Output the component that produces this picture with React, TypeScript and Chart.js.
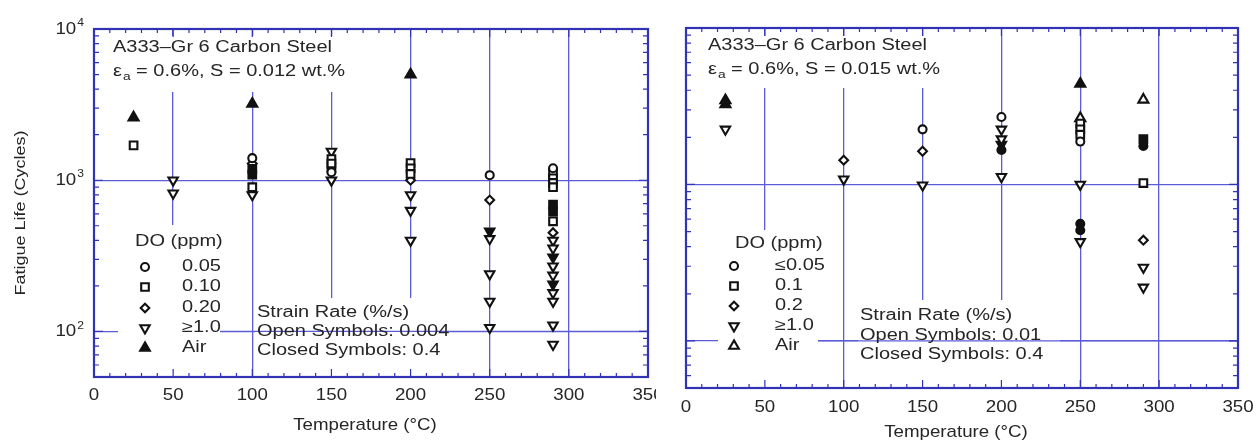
import React, { useEffect, useRef } from "react";
import { Chart, registerables } from "chart.js";
Chart.register(...registerables);

type P = [number, number];

// ---------- axes ----------
const X_MIN = 0;
const X_MAX = 350;
const X_MAJOR = [0, 50, 100, 150, 200, 250, 300, 350];
const X_MINOR_STEP = 10;
const Y_MIN = 50;
const Y_MAX = 10000;
const Y_DECADES = [100, 1000, 10000];
const Y_EXPONENTS = ["2", "3", "4"];

// ---------- panel A : S = 0.012 wt.% ----------
const A_CIRCLE_OPEN: P[] = [[100, 1400], [150, 1130], [250, 1080], [290, 1200]];
const A_SQUARE_OPEN: P[] = [[25, 1700], [100, 900], [150, 1380], [150, 1290], [200, 1300], [200, 1200], [200, 1100], [290, 1100], [290, 1030], [290, 960], [290, 900], [290, 535]];
const A_SQUARE_FILLED: P[] = [[100, 1190], [100, 1090], [150, 1210], [290, 690], [290, 620]];
const A_DIAMOND_OPEN: P[] = [[100, 1290], [200, 1000], [250, 740], [290, 450]];
const A_DOWN_OPEN: P[] = [[50, 1000], [50, 820], [100, 800], [150, 1550], [150, 1000], [200, 800], [200, 630], [200, 400], [250, 410], [250, 240], [250, 158], [250, 106], [290, 400], [290, 355], [290, 270], [290, 235], [290, 180], [290, 158], [290, 110], [290, 82]];
const A_DOWN_FILLED: P[] = [[250, 460], [290, 310], [290, 205]];
const A_AIR_FILLED: P[] = [[25, 2600], [100, 3200], [200, 5000]];

// ---------- panel B : S = 0.015 wt.% ----------
const B_CIRCLE_OPEN: P[] = [[150, 2250], [200, 2700], [250, 1880]];
const B_CIRCLE_FILLED: P[] = [[200, 1660], [250, 560], [250, 510], [290, 1760]];
const B_SQUARE_OPEN: P[] = [[250, 2450], [250, 2250], [250, 2080], [290, 1020]];
const B_SQUARE_FILLED: P[] = [[290, 1950]];
const B_DIAMOND_OPEN: P[] = [[100, 1430], [150, 1630], [290, 440]];
const B_DOWN_OPEN: P[] = [[25, 2250], [100, 1080], [150, 990], [200, 2250], [200, 1950], [200, 1120], [250, 1000], [250, 430], [290, 295], [290, 220]];
const B_DOWN_FILLED: P[] = [[200, 1800]];
const B_AIR_FILLED: P[] = [[25, 3450], [25, 3250], [250, 4400]];
const B_AIR_OPEN: P[] = [[250, 2650], [290, 3480]];

// ---------- texts ----------
const TITLE_1 = "A333–Gr 6 Carbon Steel";
const A_TITLE_2 = " = 0.6%, S = 0.012 wt.%";
const B_TITLE_2 = " = 0.6%, S = 0.015 wt.%";
const DO_HEADER = "DO (ppm)";
const A_DO_LABELS = ["0.05", "0.10", "0.20", "≥1.0", "Air"];
const B_DO_LABELS = ["≤0.05", "0.1", "0.2", "≥1.0", "Air"];
const DO_SYMBOLS = ["circle", "square", "diamond", "down", "up"];
const A_RATE_LABELS = ["Strain Rate (%/s)", "Open Symbols: 0.004", "Closed Symbols: 0.4"];
const B_RATE_LABELS = ["Strain Rate (%/s)", "Open Symbols: 0.01", "Closed Symbols: 0.4"];
const X_TITLE = "Temperature (°C)";
const Y_TITLE = "Fatigue Life (Cycles)";

const H = 446;
const FONT = '"Liberation Sans", Arial, sans-serif';
const TXT = "#262626";
const GRID = "#5c5cd8";
const FRAME = "#3232b4";
const MARK = "#111";

function txt(ctx: CanvasRenderingContext2D, s: string, x: number, y: number, size: number, align = "left", sx = 1.25) {
  ctx.save();
  ctx.font = `${size}px ${FONT}`;
  ctx.textBaseline = "middle";
  ctx.textAlign = "left";
  const w = ctx.measureText(s).width * sx;
  const x0 = align === "left" ? x : align === "center" ? x - w / 2 : x - w;
  ctx.translate(x0, y);
  ctx.scale(sx, 1);
  ctx.fillStyle = TXT;
  ctx.fillText(s, 0, 0);
  ctx.restore();
  return w;
}

function sym(ctx: CanvasRenderingContext2D, kind: string, x: number, y: number, filled: boolean) {
  ctx.save();
  ctx.lineWidth = 2.1;
  ctx.strokeStyle = MARK;
  ctx.fillStyle = filled ? MARK : "#fff";
  ctx.beginPath();
  const s3 = Math.sqrt(3) / 2;
  if (kind === "circle") ctx.arc(x, y, 4, 0, Math.PI * 2);
  else if (kind === "square") ctx.rect(x - 3.8, y - 3.8, 7.6, 7.6);
  else if (kind === "diamond") {
    ctx.moveTo(x, y - 4.3); ctx.lineTo(x + 4.3, y); ctx.lineTo(x, y + 4.3); ctx.lineTo(x - 4.3, y);
  } else if (kind === "down") {
    const r = 5.4;
    ctx.moveTo(x, y + r); ctx.lineTo(x - r * s3, y - r / 2); ctx.lineTo(x + r * s3, y - r / 2);
  } else {
    const r = 5.6;
    ctx.moveTo(x, y - r); ctx.lineTo(x - r * s3, y + r / 2); ctx.lineTo(x + r * s3, y + r / 2);
  }
  ctx.closePath();
  ctx.fill();
  ctx.stroke();
  ctx.restore();
}

type Cfg = {
  left: number;
  w: number;
  plot: { l: number; r: number; t: number; b: number };
  title2: string;
  titleX: number;
  titleY: [number, number];
  doX: number;
  doY: number;
  symX: number;
  labX: number;
  rowsY: number[];
  doLabels: string[];
  airFilled: boolean;
  rateX: number;
  rateY: number[];
  rateLabels: string[];
  boxes: number[][];
  hlineFrom: number;
  yLabels: boolean;
  xLabelY: number;
  xTitleY: number;
  sets: any[];
};

function ds(data: P[], style: string, filled: boolean) {
  const base: any = {
    data: data.map(([x, y]) => ({ x, y })),
    borderColor: MARK,
    backgroundColor: filled ? MARK : "#fff",
    borderWidth: 2.1,
    showLine: false,
  };
  if (style === "circle") Object.assign(base, { pointStyle: "circle", pointRadius: 4 });
  if (style === "square") Object.assign(base, { pointStyle: "rect", pointRadius: 5.4 });
  if (style === "diamond") Object.assign(base, { pointStyle: "rectRot", pointRadius: 4.4 });
  if (style === "down") Object.assign(base, { pointStyle: "triangle", pointRadius: 5.4, pointRotation: 180 });
  if (style === "up") Object.assign(base, { pointStyle: "triangle", pointRadius: 5.8 });
  return base;
}

const CFG_A: Cfg = {
  left: 0,
  w: 656,
  plot: { l: 94, r: 648, t: 29, b: 377 },
  title2: A_TITLE_2,
  titleX: 113,
  titleY: [48, 72],
  doX: 135,
  doY: 242,
  symX: 145,
  labX: 182,
  rowsY: [267, 287, 308, 328, 348],
  doLabels: A_DO_LABELS,
  airFilled: true,
  rateX: 257,
  rateY: [313, 332, 351],
  rateLabels: A_RATE_LABELS,
  boxes: [[100, 36, 395, 92], [118, 225, 220, 376], [255, 298, 445, 376]],
  hlineFrom: 220,
  yLabels: true,
  xLabelY: 395,
  xTitleY: 425,
  sets: [
    ds(A_CIRCLE_OPEN, "circle", false),
    ds(A_SQUARE_OPEN, "square", false),
    ds(A_SQUARE_FILLED, "square", true),
    ds(A_DIAMOND_OPEN, "diamond", false),
    ds(A_DOWN_OPEN, "down", false),
    ds(A_DOWN_FILLED, "down", true),
    ds(A_AIR_FILLED, "up", true),
  ],
};

const CFG_B: Cfg = {
  left: 656,
  w: 602,
  plot: { l: 30, r: 582, t: 28, b: 388 },
  title2: B_TITLE_2,
  titleX: 52,
  titleY: [46, 70],
  doX: 79,
  doY: 244,
  symX: 78,
  labX: 119,
  rowsY: [266, 286, 306, 326, 346],
  doLabels: B_DO_LABELS,
  airFilled: false,
  rateX: 204,
  rateY: [316, 336, 355],
  rateLabels: B_RATE_LABELS,
  boxes: [[44, 36, 334, 88], [62, 230, 162, 387], [202, 300, 404, 387]],
  hlineFrom: 162,
  yLabels: false,
  xLabelY: 407,
  xTitleY: 432,
  sets: [
    ds(B_CIRCLE_OPEN, "circle", false),
    ds(B_CIRCLE_FILLED, "circle", true),
    ds(B_SQUARE_OPEN, "square", false),
    ds(B_SQUARE_FILLED, "square", true),
    ds(B_DIAMOND_OPEN, "diamond", false),
    ds(B_DOWN_OPEN, "down", false),
    ds(B_DOWN_FILLED, "down", true),
    ds(B_AIR_FILLED, "up", true),
    ds(B_AIR_OPEN, "up", false),
  ],
};

function makePlugin(cfg: Cfg) {
  return {
    id: "decor",
    beforeDatasetsDraw(chart: any) {
      const ctx: CanvasRenderingContext2D = chart.ctx;
      const xs = chart.scales.x;
      const ys = chart.scales.y;
      const { left, right, top, bottom } = chart.chartArea;
      ctx.save();
      ctx.fillStyle = "#fff";
      cfg.boxes.forEach(([x1, y1, x2, y2]) => ctx.fillRect(x1, y1, x2 - x1, y2 - y1));
      // 10^2 line passes over the strain-rate text block
      const y100 = ys.getPixelForValue(Y_DECADES[0]);
      ctx.strokeStyle = GRID;
      ctx.lineWidth = 1.3;
      ctx.beginPath();
      ctx.moveTo(cfg.hlineFrom, y100);
      ctx.lineTo(right, y100);
      ctx.stroke();
      // ticks (inside)
      ctx.strokeStyle = FRAME;
      ctx.lineWidth = 1.2;
      ctx.beginPath();
      for (let v = X_MIN; v <= X_MAX; v += X_MINOR_STEP) {
        const px = xs.getPixelForValue(v);
        const len = X_MAJOR.includes(v) ? 8 : 4;
        ctx.moveTo(px, bottom); ctx.lineTo(px, bottom - len);
        ctx.moveTo(px, top); ctx.lineTo(px, top + len);
      }
      for (let d = 10; d <= Y_MAX; d *= 10) {
        for (let k = 1; k <= 9; k++) {
          const v = d * k;
          if (v < Y_MIN || v > Y_MAX) continue;
          const py = ys.getPixelForValue(v);
          const len = k === 1 ? 9 : 5;
          ctx.moveTo(left, py); ctx.lineTo(left + len, py);
          ctx.moveTo(right, py); ctx.lineTo(right - len, py);
        }
      }
      ctx.stroke();
      // frame
      ctx.lineWidth = 2.2;
      ctx.strokeRect(left, top, right - left, bottom - top);
      ctx.restore();
    },
    afterDatasetsDraw(chart: any) {
      const ctx: CanvasRenderingContext2D = chart.ctx;
      const xs = chart.scales.x;
      const ys = chart.scales.y;
      const { left, right, top, bottom } = chart.chartArea;
      // titles inside the plot
      txt(ctx, TITLE_1, cfg.titleX, cfg.titleY[0], 16);
      let w = txt(ctx, "ε", cfg.titleX, cfg.titleY[1], 16);
      w += txt(ctx, "a", cfg.titleX + w + 1, cfg.titleY[1] + 5, 11) + 1;
      txt(ctx, cfg.title2, cfg.titleX + w, cfg.titleY[1], 16);
      // DO legend
      txt(ctx, DO_HEADER, cfg.doX, cfg.doY, 16);
      cfg.rowsY.forEach((y, i) => {
        const kind = DO_SYMBOLS[i];
        sym(ctx, kind, cfg.symX, y, kind === "up" ? cfg.airFilled : false);
        txt(ctx, cfg.doLabels[i], cfg.labX, y, 16);
      });
      // strain rate block
      cfg.rateY.forEach((y, i) => txt(ctx, cfg.rateLabels[i], cfg.rateX, y, 16));
      // x tick labels
      xs.ticks.forEach((t: any) => {
        txt(ctx, String(t.value), xs.getPixelForValue(t.value), cfg.xLabelY, 17, "center", 1.1);
      });
      txt(ctx, X_TITLE, (left + right) / 2 - 6, cfg.xTitleY, 17, "center", 1.1);
      if (cfg.yLabels) {
        ys.ticks.forEach((t: any, i: number) => {
          const py = ys.getPixelForValue(t.value);
          const sw = txt(ctx, Y_EXPONENTS[i], 0, -100, 11, "left", 1.1);
          const baseX = left - 11 - sw;
          txt(ctx, "10", baseX, py, 17, "right", 1.1);
          txt(ctx, Y_EXPONENTS[i], baseX + 1, py - 6, 11, "left", 1.1);
        });
        ctx.save();
        ctx.translate(21, (top + bottom) / 2 + 10);
        ctx.rotate(-Math.PI / 2);
        txt(ctx, Y_TITLE, 0, 0, 15, "center", 1.2);
        ctx.restore();
      }
    },
  };
}

function Panel({ cfg }: { cfg: Cfg }) {
  const ref = useRef<HTMLCanvasElement>(null);
  useEffect(() => {
    const c = ref.current!;
    const chart = new Chart(c, {
      type: "scatter",
      data: { datasets: cfg.sets },
      options: {
        responsive: false,
        animation: false,
        events: [],
        layout: { padding: { top: cfg.plot.t, right: cfg.w - cfg.plot.r, left: 0, bottom: 0 } },
        plugins: { legend: { display: false }, tooltip: { enabled: false } },
        scales: {
          x: {
            type: "linear",
            min: X_MIN,
            max: X_MAX,
            ticks: { display: false, stepSize: 50 },
            afterBuildTicks: (s: any) => { s.ticks = X_MAJOR.map((v) => ({ value: v })); },
            afterFit: (s: any) => { s.height = H - cfg.plot.b; },
            grid: { color: GRID, lineWidth: 1.3, drawTicks: false },
            border: { display: false },
          },
          y: {
            type: "logarithmic",
            min: Y_MIN,
            max: Y_MAX,
            ticks: { display: false },
            afterBuildTicks: (s: any) => { s.ticks = Y_DECADES.map((v) => ({ value: v })); },
            afterFit: (s: any) => { s.width = cfg.plot.l; },
            grid: { color: GRID, lineWidth: 1.3, drawTicks: false },
            border: { display: false },
          },
        },
      } as any,
      plugins: [makePlugin(cfg)],
    });
    return () => chart.destroy();
  }, [cfg]);
  return (
    <canvas
      ref={ref}
      width={cfg.w}
      height={H}
      style={{ position: "absolute", left: cfg.left, top: 0, width: cfg.w, height: H }}
    />
  );
}

export default function App() {
  return (
    <div style={{ position: "absolute", left: 0, top: 0, width: 1258, height: H, background: "#fff", overflow: "hidden" }}>
      <Panel cfg={CFG_A} />
      <Panel cfg={CFG_B} />
    </div>
  );
}
